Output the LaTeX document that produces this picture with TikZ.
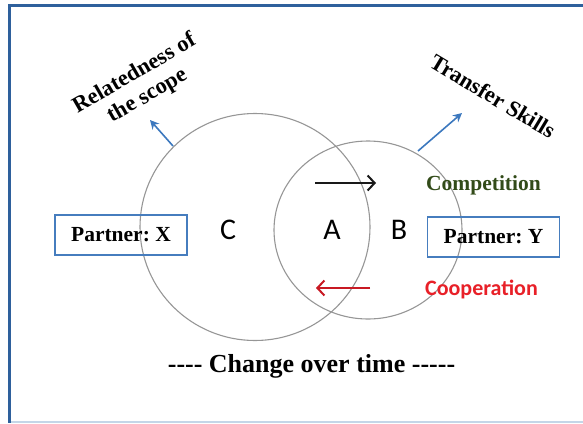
\documentclass[tikz,border=0pt]{standalone}
\usepackage{fontspec}
\setmainfont{Liberation Serif}
\newfontfamily\calib{Carlito}
\usetikzlibrary{arrows.meta}
\frenchspacing
\definecolor{frameblue}{RGB}{46,96,156}
\definecolor{framelight}{RGB}{196,214,232}
\definecolor{boxblue}{RGB}{70,125,190}
\definecolor{arrowblue}{RGB}{60,120,190}
\definecolor{ringgray}{RGB}{150,150,150}
\definecolor{compgreen}{RGB}{50,75,25}
\definecolor{coopred}{RGB}{232,32,40}
\definecolor{darkred}{RGB}{200,25,35}
\tikzset{
  ring/.style={draw=ringgray, line width=1.1pt},
  partner/.style={draw=boxblue, line width=1.4pt, minimum width=132pt, minimum height=40pt,
    inner sep=0pt, font=\fontsize{21.5}{24}\selectfont\bfseries},
  region/.style={font=\calib\fontsize{30}{32}\selectfont},
  pointer/.style={draw=arrowblue, line width=1.6pt, -{Stealth[length=9pt,width=9pt]}},
  flow/.style={line width=2.4pt, -{Straight Barb[length=7pt,width=15pt,line width=2pt]}},
  tilted/.style={font=\fontsize{22.5}{25.5}\selectfont\bfseries, align=center, inner sep=0pt},
}
\begin{document}
\begin{tikzpicture}[x=1pt,y=-1pt]
\useasboundingbox (0,0) rectangle (583,423);
% page frame
\draw[framelight, line width=2pt] (9.5,422) -- (583,422);
\draw[frameblue, line width=3pt] (583,5) -- (9.5,5) -- (9.5,423);

% overlapping scopes
\draw[ring] (255,227) ellipse [x radius=115, y radius=113.5];
\draw[ring] (368,230) ellipse [x radius=94, y radius=89];

% partner boxes
\node[partner] (px) at (121,235) {Partner: X};
\node[partner] (py) at (493.5,237) {Partner: Y};

% region letters
\node[region] (c) at (228,230) {C};
\node[region] (a) at (332,230) {A};
\node[region] (b) at (399,230) {B};

% rotated headings and their pointers
\node[tilted, rotate=30] (rel) at (141,85) {Relatedness of\\the scope};
\node[tilted, rotate=-31] (ts) at (493,96) {Transfer Skills};
\coordinate (relfoot) at (173,146);
\coordinate (reltip) at (150,120);
\coordinate (tsfoot) at (418,151);
\coordinate (tstip) at (462,113);
\draw[pointer] (relfoot) -- (reltip);
\draw[pointer] (tsfoot) -- (tstip);

% competition / cooperation flows
\node[font=\fontsize{21.5}{24}\selectfont\bfseries, text=compgreen] (comp) at (483.5,185) {Competition};
\node[font=\calib\fontsize{22}{24}\selectfont\bfseries, text=coopred] (coop) at (481.5,289) {Cooperation};
\coordinate (cstart) at (315,183);
\coordinate (cend) at (376,183);
\coordinate (ostart) at (370,288);
\coordinate (oend) at (316,288);
\draw[flow, black!90] (cstart) -- (cend);
\draw[flow, darkred] (ostart) -- (oend);

% caption
\node[font=\fontsize{26}{28}\selectfont\bfseries] (time) at (311.5,366) {-{}-{}-{}- Change over time -{}-{}-{}-{}-};
\end{tikzpicture}
\end{document}
